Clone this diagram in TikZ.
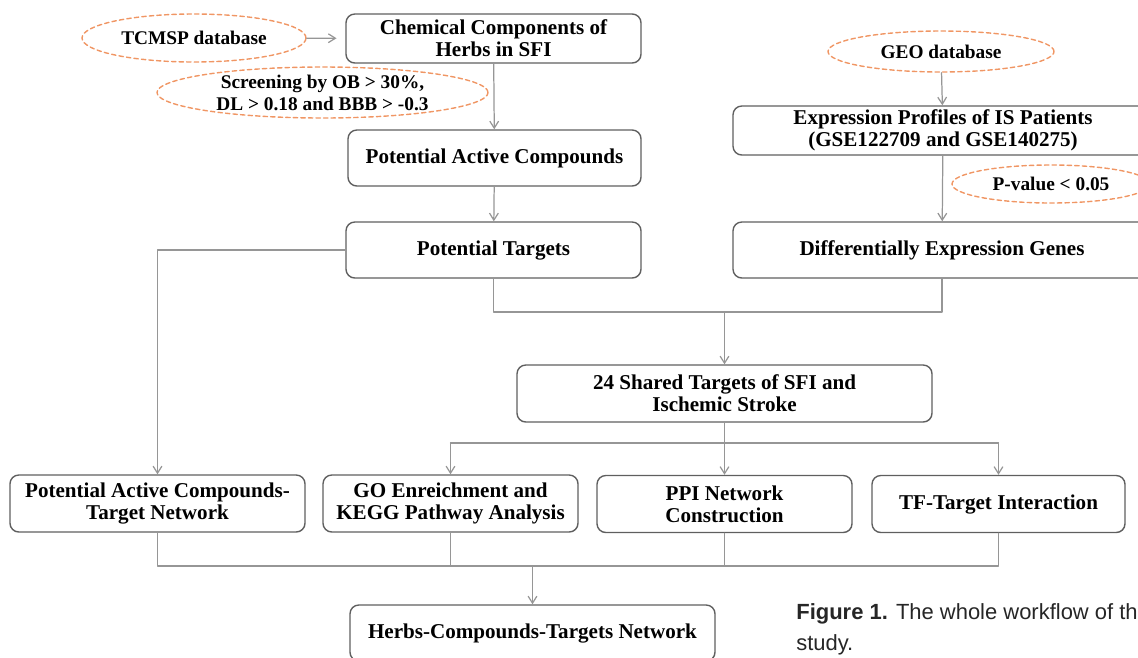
\documentclass[tikz,border=0pt]{standalone}
\usepackage{fontspec}
\setmainfont{Liberation Serif}
\newfontfamily\capfont{Liberation Sans}
\usetikzlibrary{shapes.geometric,arrows.meta}

\definecolor{boxgray}{RGB}{95,95,95}
\definecolor{linkgray}{RGB}{150,150,150}
\definecolor{dborange}{RGB}{240,150,100}

% one pixel of the layout grid
\newdimen\unitpx
\unitpx=0.02cm

\tikzset{
  flowbox/.style={draw=boxgray, line width=0.8pt, rounded corners=5pt, align=center,
    inner sep=0pt, font=\fontsize{12}{12.5}\selectfont\bfseries},
  dbnote/.style={draw=dborange, ellipse, line width=0.8pt, dash pattern=on 2.5pt off 1.8pt,
    inner sep=0pt, align=center, font=\fontsize{11}{12.5}\selectfont\bfseries},
  link/.style={draw=linkgray, line width=0.7pt},
  arr/.style={link, -{Straight Barb[length=4pt,width=5pt]}}
}

\begin{document}
\begin{tikzpicture}[x=0.02cm, y=-0.02cm, line join=round, line cap=round]
      \useasboundingbox (0,0) rectangle (1138,657);

      % Herb side
      \node[dbnote, minimum width=224\unitpx, minimum height=48\unitpx] (tcmsp) at (194,38) {TCMSP database};
      \node[flowbox, minimum width=295\unitpx, minimum height=49\unitpx] (chem) at (493.5,38.5) {Chemical Components of\\Herbs in SFI};
      \node[dbnote, minimum width=331\unitpx, minimum height=51\unitpx] (screen) at (322.5,92.5) {Screening by OB > 30\%,\\DL > 0.18 and BBB > -0.3};
      \node[flowbox, minimum width=293\unitpx, minimum height=56\unitpx] (pac) at (494.5,158) {Potential Active Compounds};
      \node[flowbox, minimum width=295\unitpx, minimum height=56\unitpx] (pt) at (493.5,250) {Potential Targets};

      % Disease side
      \node[dbnote, minimum width=226\unitpx, minimum height=41\unitpx] (geo) at (941,51.5) {GEO database};
      \node[flowbox, minimum width=420\unitpx, minimum height=49\unitpx] (expr) at (943,130.5) {Expression Profiles of IS Patients\\(GSE122709 and GSE140275)};
      \node[dbnote, minimum width=198\unitpx, minimum height=38\unitpx] (pval) at (1051,184) {P-value < 0.05};
      \node[flowbox, minimum width=418\unitpx, minimum height=56\unitpx] (deg) at (942,250) {Differentially Expression Genes};

      % Shared targets and analyses
      \node[flowbox, minimum width=415\unitpx, minimum height=57\unitpx] (shared) at (724.5,393.5) {24 Shared Targets of SFI and\\Ischemic Stroke};
      \node[flowbox, minimum width=295\unitpx, minimum height=57\unitpx] (pact) at (157.5,503.5) {Potential Active Compounds-\\Target Network};
      \node[flowbox, minimum width=255\unitpx, minimum height=57\unitpx] (go) at (450.5,503.5) {GO Enreichment and\\KEGG Pathway Analysis};
      \node[flowbox, minimum width=255\unitpx, minimum height=57\unitpx] (ppi) at (724.5,504) {PPI Network\\Construction};
      \node[flowbox, minimum width=253\unitpx, minimum height=57\unitpx] (tf) at (998.5,504) {TF-Target Interaction};
      \node[flowbox, minimum width=365\unitpx, minimum height=56\unitpx] (herbs) at (532.5,633) {Herbs-Compounds-Targets Network};

      % Caption
      \node[anchor=north west, align=left, inner sep=0pt, text=black!85,
        font=\capfont\fontsize{12.5}{17.5}\selectfont] (cap) at (796,603)
        {\textbf{Figure 1.} The whole workflow of th\\study.};

      % Junction points
      \coordinate (J1) at (724.5,312);
      \coordinate (J2) at (724.5,443);
      \coordinate (J3) at (532.5,566);

      % Connectors
      \draw[arr, shorten >=5pt] (tcmsp) -- (chem);
      \draw[arr] (chem) -- (pac);
      \draw[arr] (pac) -- (pt);
      \draw[arr] (geo) -- (expr);
      \draw[arr] (expr) -- (deg);

      \draw[link] (pt.south) |- (J1) -| (deg.south);
      \draw[arr] (J1) -- (shared.north);
      \draw[arr] (pt.west) -| (pact.north);

      \draw[link] (shared.south) -- (J2);
      \draw[link] (go.north |- J2) -- (tf.north |- J2);
      \draw[arr] (go.north |- J2) -- (go.north);
      \draw[arr] (J2) -- (ppi.north);
      \draw[arr] (tf.north |- J2) -- (tf.north);

      \draw[link] (pact.south) |- (J3) -| (tf.south);
      \draw[link] (go.south) -- (go.south |- J3);
      \draw[link] (ppi.south) -- (ppi.south |- J3);
      \draw[arr] (J3) -- (herbs.north);

\end{tikzpicture}
\end{document}
